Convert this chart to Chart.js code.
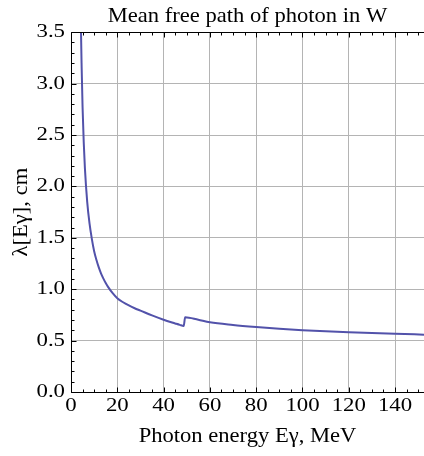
<!DOCTYPE html>
<html><head><meta charset="utf-8">
<script src="https://cdn.jsdelivr.net/npm/chart.js@4"></script>
<style>html,body{margin:0;padding:0;background:#fff}#wrap{width:424px;height:456px}</style>
</head><body><div id="wrap"><canvas id="c" width="424" height="456"></canvas></div>
<script>
const titleText = "Mean free path of photon in W";
const xAxisTitle = "Photon energy E\u03B3, MeV";
const yAxisTitle = "\u03BB[E\u03B3], cm";
const energyMeV = [4.1, 4.3, 4.6, 5, 5.5, 6, 7, 8, 9, 10, 11, 12, 13, 14, 15, 16, 18, 20, 22.5, 25, 27.5, 30, 35, 40, 45, 47, 48.7, 49.3, 55, 60, 70, 80, 90, 100, 110, 120, 130, 140, 152.5];
const lambdaCm  = [3.91, 3.53, 3.16, 2.77, 2.43, 2.18, 1.85, 1.64, 1.49, 1.37, 1.284, 1.212, 1.152, 1.103, 1.06, 1.023, 0.961, 0.912, 0.873, 0.842, 0.815, 0.792, 0.745, 0.703, 0.667, 0.653, 0.643, 0.727, 0.702, 0.678, 0.652, 0.632, 0.615, 0.601, 0.59, 0.581, 0.573, 0.566, 0.558];
const xTickValues = [0, 20, 40, 60, 80, 100, 120, 140];
const yTickValues = [0, 0.5, 1.0, 1.5, 2.0, 2.5, 3.0, 3.5];
const xRange = [0, 152.5];
const yRange = [0, 3.5];
const xMinorStep = 5;
const yMinorStep = 0.1;

const serif = "'Liberation Serif', 'Times New Roman', serif";
const gridColor = '#b4b4b4';
const lineColor = 'rgb(82,82,170)';
const tickFontSize = 19;
const titleFontSize = 21;

// The reference typography is wider than Times; widen glyphs along the text direction.
const textStretchBySize = {19: 1.2, 21: 1.075};
const stretchFor = font => {
  const m = /(\d+(?:\.\d+)?)px/.exec(font || '');
  return (m && textStretchBySize[Math.round(parseFloat(m[1]))]) || 1;
};
const canvas = document.getElementById('c');
const g = canvas.getContext('2d');
const origFillText = g.fillText;
const origMeasureText = g.measureText;
g.fillText = function (t, x, y) {
  const k = stretchFor(this.font);
  this.save();
  this.translate(x, y);
  this.scale(k, 1);
  origFillText.call(this, t, 0, 0);
  this.restore();
};
g.measureText = function (t) {
  const k = stretchFor(this.font);
  const m = origMeasureText.call(this, t);
  return {
    width: m.width * k,
    actualBoundingBoxAscent: m.actualBoundingBoxAscent,
    actualBoundingBoxDescent: m.actualBoundingBoxDescent,
    actualBoundingBoxLeft: m.actualBoundingBoxLeft * k,
    actualBoundingBoxRight: m.actualBoundingBoxRight * k
  };
};

const framePlugin = {
  id: 'frame',
  afterDatasetsDraw(chart) {
    const {ctx, chartArea: a, scales: {x, y}} = chart;
    const al = v => Math.round(v) + 0.5;
    ctx.save();
    ctx.strokeStyle = '#000';
    ctx.lineWidth = 1;
    ctx.beginPath();
    const L = al(a.left), T = al(a.top), B = al(a.bottom), R = a.right + 1;
    ctx.moveTo(L, T); ctx.lineTo(R, T);
    ctx.moveTo(L, T); ctx.lineTo(L, B);
    ctx.moveTo(L, B); ctx.lineTo(R, B);
    for (let i = 0; i <= Math.floor((xRange[1] - xRange[0]) / xMinorStep); i++) {
      const v = xRange[0] + i * xMinorStep;
      const major = xTickValues.some(t => Math.abs(t - v) < 1e-6);
      const len = major ? 5 : 3;
      const px = al(x.getPixelForValue(v));
      ctx.moveTo(px, B); ctx.lineTo(px, B - len);
      ctx.moveTo(px, T); ctx.lineTo(px, T + len);
    }
    for (let i = 0; i <= Math.round((yRange[1] - yRange[0]) / yMinorStep); i++) {
      const v = yRange[0] + i * yMinorStep;
      const major = yTickValues.some(t => Math.abs(t - v) < 1e-6);
      const len = major ? 5 : 3;
      const py = al(y.getPixelForValue(v));
      ctx.moveTo(L, py); ctx.lineTo(L + len, py);
    }
    ctx.stroke();
    ctx.restore();
  }
};

new Chart(canvas, {
  type: 'line',
  data: {
    datasets: [{
      data: energyMeV.map((e, i) => ({x: e, y: lambdaCm[i]})),
      borderColor: lineColor,
      borderWidth: 2,
      pointRadius: 0,
      fill: false,
      cubicInterpolationMode: 'monotone',
      clip: 0
    }]
  },
  options: {
    responsive: false,
    animation: false,
    devicePixelRatio: 1,
    layout: {padding: {left: 0, right: 0, top: 0, bottom: 0}},
    plugins: {
      legend: {display: false},
      tooltip: {enabled: false},
      title: {
        display: true, text: titleText, color: '#000', fullSize: false, align: 'center',
        font: {family: serif, size: titleFontSize, weight: 'normal', lineHeight: 1.2},
        padding: {top: 4, bottom: 3}
      }
    },
    scales: {
      x: {
        type: 'linear', min: xRange[0], max: xRange[1],
        afterBuildTicks: s => { s.ticks = xTickValues.map(v => ({value: v})); },
        afterFit: s => { s.height = 64; },
        grid: {color: gridColor, lineWidth: 1, drawTicks: false},
        border: {display: false},
        ticks: {color: '#000', font: {family: serif, size: tickFontSize}, padding: 3, maxRotation: 0, autoSkip: false,
          callback: v => String(v)},
        title: {display: true, text: xAxisTitle, color: '#000', font: {family: serif, size: titleFontSize, lineHeight: 1.2}, padding: {top: 0, bottom: 7}}
      },
      y: {
        type: 'linear', min: yRange[0], max: yRange[1],
        afterBuildTicks: s => { s.ticks = yTickValues.map(v => ({value: v})); },
        afterFit: s => { s.width = 71; },
        grid: {color: gridColor, lineWidth: 1, drawTicks: false},
        border: {display: false},
        ticks: {color: '#000', font: {family: serif, size: tickFontSize}, padding: 6, autoSkip: false,
          callback: v => Number(v).toFixed(1)},
        title: {display: true, text: yAxisTitle, color: '#000', font: {family: serif, size: titleFontSize, lineHeight: 1.2}, padding: {top: 8.4, bottom: 0}}
      }
    }
  },
  plugins: [framePlugin]
});
</script></body></html>
